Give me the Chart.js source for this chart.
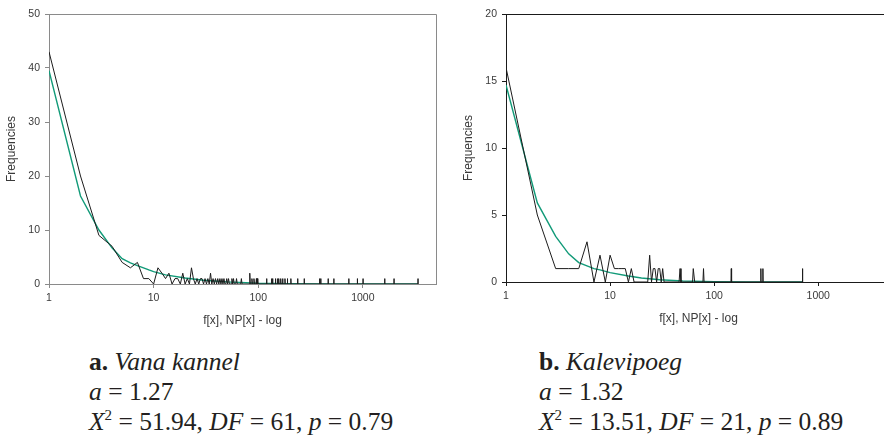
<!DOCTYPE html>
<html>
<head>
<meta charset="utf-8">
<script src="https://cdn.jsdelivr.net/npm/chart.js@4.4.0/dist/chart.umd.min.js"></script>
<style>
  html, body { margin: 0; padding: 0; background: #fff; }
  body { width: 884px; height: 437px; overflow: hidden; position: relative; }
  .panel { position: absolute; top: 0; }
  .cap {
    position: absolute; top: 347px;
    font-family: 'Liberation Serif', 'Times New Roman', serif;
    font-size: 25.5px; line-height: 30px; color: #231f20; white-space: nowrap;
  }
  .cap i { font-style: italic; }
  .cap sup { font-size: 15px; vertical-align: 10px; line-height: 0; }
</style>
</head>
<body>
<div class="panel" style="left:0;width:445px;height:340px"><canvas id="grafico-a" width="445" height="340"></canvas></div>
<div class="panel" style="left:440px;width:460px;height:338px"><canvas id="grafico-b" width="460" height="338"></canvas></div>

<div class="cap" style="left:89px">
  <b>a.</b> <i>Vana kannel</i><br>
  <i>a</i> = 1.27<br>
  <i>X</i><sup>2</sup> = 51.94, <i>DF</i> = 61, <i>p</i> = 0.79
</div>
<div class="cap" style="left:539px">
  <b>b.</b> <i>Kalevipoeg</i><br>
  <i>a</i> = 1.32<br>
  <i>X</i><sup>2</sup> = 13.51, <i>DF</i> = 21, <i>p</i> = 0.89
</div>

<script>
// Eje X común (log)
const xTicks = [1, 10, 100, 1000];

// a. Vana kannel - frecuencias observadas
const vkLowX = [1,2,3,4,5,6,7,8,9,10,11,12,13,14,15,16,17,18,19,20,21,22,23,24,25,26,27,28,29,30,31,32,33,34,35,36];
const vkLowY = [43,20,9,7,4,3,4,1,1,0,3,2,1,2,0,1,1,0,2,0,1,0,3,1,0,1,0,1,1,0,1,0,1,0,2,0];
const vkSpikeX = [37,39,41,43,45,47,50,52,56,58,62,69,83,87,91,96,98,120,134,137,146,153,157,164,171,180,190,205,238,275,386,396,466,528,734,887,1004,1619,1986,3366];
const vkSpikeY = [1,1,1,1,1,1,1,1,1,1,1,1,2,1,1,1,1,1,1,1,1,1,1,1,1,1,1,1,1,1,1,1,1,1,1,1,1,1,1,1];
// a. Vana kannel - valores esperados NP[x]
const vkFitX = [1,2,3,4,5,6,7,8,9,10,13,20,30,50,100,200,500,1000,3366];
const vkFitY = [39.5,16.3,10,6.7,4.7,3.9,3.4,3.0,2.6,2.3,1.7,1.1,0.7,0.4,0.15,0.06,0.02,0.01,0];

// b. Kalevipoeg - frecuencias observadas
const kpLowX = [1,2,3,4,5,6,7,8,9,10,11,12,13,14,15,16,17];
const kpLowY = [16,5,1,1,1,3,0,2,0,2,1,1,1,1,0,1,0];
const kpSpikeX = [24,26,27,29,30,32,47,63,64,79,146,281,294,707];
const kpSpikeY = [2,1,1,1,1,1,1,1,1,1,1,1,1,1];
// b. Kalevipoeg - valores esperados NP[x]
const kpFitX = [1,2,3,4,5,6,7,8,10,15,20,30,50,100,200,707];
const kpFitY = [14.7,5.9,3.4,2.1,1.45,1.2,1.0,0.9,0.7,0.45,0.3,0.17,0.07,0.03,0.01,0];

// Une la parte densa con los picos aislados (los vecinos de cada pico valen 0)
function serieObservada(lowX, lowY, spikeX, spikeY) {
    const mapa = {};
    lowX.forEach((x, i) => { mapa[x] = lowY[i]; });
    spikeX.forEach((x, i) => { mapa[x] = spikeY[i]; });
    spikeX.forEach(x => {
        if (mapa[x - 1] === undefined) mapa[x - 1] = 0;
        if (mapa[x + 1] === undefined) mapa[x + 1] = 0;
    });
    return Object.keys(mapa).map(Number).sort((a, b) => a - b).map(x => ({ x: x, y: mapa[x] }));
}

function puntos(xs, ys) {
    return xs.map((x, i) => ({ x: x, y: ys[i] }));
}

// Marco superior y derecho del área del gráfico
const marco = {
    id: 'marco',
    afterDatasetsDraw(chart, args, opts) {
        const a = chart.chartArea;
        const ctx = chart.ctx;
        ctx.save();
        ctx.strokeStyle = opts.color;
        ctx.lineWidth = 1;
        ctx.beginPath();
        ctx.moveTo(a.left, a.top + 0.5);
        ctx.lineTo(a.right + 0.5, a.top + 0.5);
        ctx.lineTo(a.right + 0.5, a.bottom);
        ctx.stroke();
        ctx.restore();
    }
};

function crearGrafico(id, observada, esperada, yMax, yStep, ejeColor, padLeft) {
    const txt = '#3a3a3a';
    return new Chart(document.getElementById(id).getContext('2d'), {
        type: 'scatter',
        data: {
            datasets: [
                {
                    label: 'f[x]',
                    data: observada,
                    showLine: true,
                    borderColor: '#1c1c1c',
                    borderWidth: 1,
                    pointRadius: 0,
                    tension: 0
                },
                {
                    label: 'NP[x]',
                    data: esperada,
                    showLine: true,
                    borderColor: '#119a78',
                    borderWidth: 1.4,
                    pointRadius: 0,
                    tension: 0
                }
            ]
        },
        options: {
            responsive: false,
            animation: false,
            events: [],
            layout: { padding: { left: padLeft, top: 14, right: 9, bottom: 0 } },
            plugins: {
                legend: { display: false },
                tooltip: { enabled: false },
                marco: { color: ejeColor }
            },
            scales: {
                x: {
                    type: 'logarithmic',
                    min: 1,
                    max: 5000,
                    afterBuildTicks: s => { s.ticks = xTicks.map(v => ({ value: v })); },
                    afterFit: s => { s.height = 56; },
                    grid: { drawOnChartArea: false, drawTicks: true, tickLength: 4, color: ejeColor },
                    border: { color: ejeColor, width: 1 },
                    ticks: {
                        autoSkip: false,
                        maxRotation: 0,
                        padding: 4,
                        color: txt,
                        font: { family: "'Liberation Sans', Arial, sans-serif", size: 10.5 },
                        callback: v => String(v)
                    },
                    title: {
                        display: true,
                        text: 'f[x], NP[x] - log',
                        color: txt,
                        padding: { top: 0, bottom: 12 },
                        font: { family: "'Liberation Sans', Arial, sans-serif", size: 12 }
                    }
                },
                y: {
                    min: 0,
                    max: yMax,
                    afterFit: s => { s.width = 49; },
                    grid: { drawOnChartArea: false, drawTicks: true, tickLength: 4, color: ejeColor },
                    border: { color: ejeColor, width: 1 },
                    ticks: {
                        stepSize: yStep,
                        padding: 5,
                        color: txt,
                        font: { family: "'Liberation Sans', Arial, sans-serif", size: 10.5 }
                    },
                    title: {
                        display: true,
                        text: 'Frequencies',
                        color: txt,
                        padding: { top: 4, bottom: 0 },
                        font: { family: "'Liberation Sans', Arial, sans-serif", size: 12 }
                    }
                }
            }
        },
        plugins: [marco]
    });
}

crearGrafico('grafico-a',
    serieObservada(vkLowX, vkLowY, vkSpikeX, vkSpikeY),
    puntos(vkFitX, vkFitY), 50, 10, '#8a8a8a', 0);

crearGrafico('grafico-b',
    serieObservada(kpLowX, kpLowY, kpSpikeX, kpSpikeY),
    puntos(kpFitX, kpFitY), 20, 5, '#1a1a1a', 17);
</script>
</body>
</html>
